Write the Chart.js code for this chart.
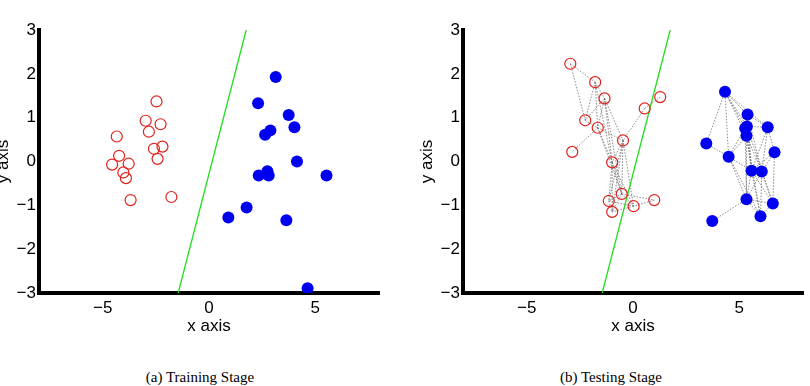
<!DOCTYPE html>
<html>
<head>
<meta charset="utf-8">
<script src="https://cdn.jsdelivr.net/npm/chart.js@4.4.1/dist/chart.umd.min.js"></script>
<style>
  html, body { margin: 0; padding: 0; background: #fff; }
  body { width: 810px; height: 386px; position: relative; overflow: hidden; }
  .box { position: absolute; top: 0; width: 420px; height: 345px; }
  .caption { position: absolute; top: 369px; width: 300px; text-align: center;
             font-family: "Liberation Serif", "Times New Roman", serif; font-size: 15px; color: #000; }
</style>
</head>
<body>
<div class="box" style="left:-21px"><canvas id="trainChart"></canvas></div>
<div class="box" style="left:403px"><canvas id="testChart"></canvas></div>
<div class="caption" style="left:50px">(a) Training Stage</div>
<div class="caption" style="left:461px">(b) Testing Stage</div>
<script>
// training stage
const trainRedX = [-2.47, -2.98, -2.83, -2.28, -4.34, -2.59, -2.19, -2.42, -4.23, -4.56, -3.78, -4.03, -3.91, -3.69, -1.77];
const trainRedY = [1.37, 0.93, 0.68, 0.85, 0.57, 0.29, 0.34, 0.06, 0.13, -0.07, -0.05, -0.25, -0.38, -0.88, -0.81];
const trainBlueX = [3.14, 2.31, 3.75, 4.02, 2.89, 2.64, 4.14, 2.34, 2.75, 2.81, 5.53, 1.77, 0.91, 3.64, 4.64];
const trainBlueY = [1.93, 1.33, 1.06, 0.78, 0.71, 0.61, 0.00, -0.32, -0.22, -0.32, -0.32, -1.05, -1.28, -1.34, -2.89];

// testing stage
const testRedX = [-2.95, -1.78, -1.34, 0.55, 1.28, -2.25, -1.66, -0.47, -2.86, -0.98, -0.53, -1.14, 1.00, 0.03, -0.98];
const testRedY = [2.23, 1.81, 1.44, 1.21, 1.47, 0.94, 0.77, 0.48, 0.22, -0.02, -0.74, -0.90, -0.88, -1.02, -1.15];
const testBlueX = [4.33, 5.39, 6.34, 5.28, 5.36, 5.34, 3.45, 6.66, 4.50, 5.58, 6.06, 5.34, 6.58, 6.00, 3.73];
const testBlueY = [1.59, 1.07, 0.78, 0.76, 0.80, 0.59, 0.41, 0.21, 0.11, -0.21, -0.23, -0.86, -0.96, -1.25, -1.36];

// neighbour graph (index pairs)
const testRedEdges = [[0,1],[0,5],[1,5],[1,2],[1,6],[1,9],[2,5],[2,6],[2,7],[2,9],[2,10],[5,6],[6,8],
  [6,7],[6,9],[6,10],[3,4],[3,7],[7,9],[7,10],[7,11],[7,14],[7,13],[9,10],[9,11],[9,14],[9,13],
  [10,11],[10,13],[10,12],[10,14],[11,14],[11,13],[13,14],[12,13]];
const testBlueEdges = [[0,6],[0,8],[0,1],[0,3],[0,4],[0,5],[0,2],[6,8],[8,5],[8,9],[8,11],[8,13],[8,3],
  [14,11],[1,2],[1,3],[1,4],[1,5],[1,9],[1,10],[2,4],[2,7],[2,9],[2,10],[3,4],[3,5],[4,5],[3,11],
  [5,9],[5,10],[5,11],[4,9],[7,9],[7,10],[7,12],[9,10],[9,11],[9,12],[9,13],[10,12],[10,13],
  [10,11],[11,12],[11,13],[12,13],[4,12],[5,13]];

// separating line
const boundaryX = [-1.45, 1.75];
const boundaryY = [-3, 3];

const xTicks = [-5, 0, 5];
const xMin = -8, xMax = 8, yMin = -3, yMax = 3;

const pts = (xs, ys) => xs.map((x, i) => ({ x: x, y: ys[i] }));
const minus = v => String(v).replace('-', '\u2212');
const tickFont = { family: 'Liberation Sans, Arial, sans-serif', size: 17 };

function edgeSets(xs, ys, edges) {
    return edges.map(e => ({
        type: 'scatter',
        data: [{ x: xs[e[0]], y: ys[e[0]] }, { x: xs[e[1]], y: ys[e[1]] }],
        showLine: true,
        borderColor: 'rgba(110,110,110,0.8)',
        borderWidth: 1,
        borderDash: [1.5, 1.5],
        pointRadius: 0,
        order: 5
    }));
}

function makeChart(id, redX, redY, blueX, blueY, edges) {
    const datasets = [
        {
            label: 'neg',
            data: pts(redX, redY),
            pointStyle: 'circle',
            pointRadius: 5.5,
            pointBorderWidth: 1.2,
            pointBorderColor: '#e0221c',
            pointBackgroundColor: 'rgba(0,0,0,0)',
            order: 1
        },
        {
            label: 'pos',
            data: pts(blueX, blueY),
            pointStyle: 'circle',
            pointRadius: 6,
            pointBorderWidth: 0,
            pointBackgroundColor: '#0000f0',
            order: 1
        },
        {
            label: 'boundary',
            data: pts(boundaryX, boundaryY),
            showLine: true,
            borderColor: '#22dd22',
            borderWidth: 1.3,
            pointRadius: 0,
            order: 2
        }
    ];
    if (edges) {
        datasets.push(...edgeSets(redX, redY, edges.red));
        datasets.push(...edgeSets(blueX, blueY, edges.blue));
    }

    new Chart(document.getElementById(id), {
        type: 'scatter',
        data: { datasets: datasets },
        options: {
            responsive: true,
            maintainAspectRatio: false,
            animation: false,
            layout: { padding: { top: 30, right: 20, left: 0, bottom: 0 } },
            plugins: {
                legend: { display: false },
                tooltip: { enabled: false }
            },
            scales: {
                x: {
                    type: 'linear',
                    min: xMin,
                    max: xMax,
                    afterBuildTicks: axis => { axis.ticks = xTicks.map(v => ({ value: v })); },
                    afterFit: axis => { axis.height = 52; },
                    ticks: {
                        color: '#000',
                        font: tickFont,
                        padding: 5,
                        callback: v => minus(v)
                    },
                    grid: { display: false, drawTicks: false },
                    border: { display: true, color: '#000', width: 4 },
                    title: {
                        display: true,
                        text: 'x axis',
                        color: '#000',
                        font: tickFont,
                        padding: { top: 0, bottom: 8 }
                    }
                },
                y: {
                    min: yMin,
                    max: yMax,
                    afterFit: axis => { axis.width = 60; },
                    ticks: {
                        stepSize: 1,
                        color: '#000',
                        font: tickFont,
                        padding: 3,
                        callback: v => minus(v)
                    },
                    grid: { display: false, drawTicks: false },
                    border: { display: true, color: '#000', width: 4 },
                    title: {
                        display: true,
                        text: 'y axis',
                        color: '#000',
                        font: tickFont,
                        padding: { top: 14, bottom: 0 }
                    }
                }
            }
        }
    });
}

document.addEventListener('DOMContentLoaded', () => {
    makeChart('trainChart', trainRedX, trainRedY, trainBlueX, trainBlueY, null);
    makeChart('testChart', testRedX, testRedY, testBlueX, testBlueY,
        { red: testRedEdges, blue: testBlueEdges });
});
</script>
</body>
</html>
